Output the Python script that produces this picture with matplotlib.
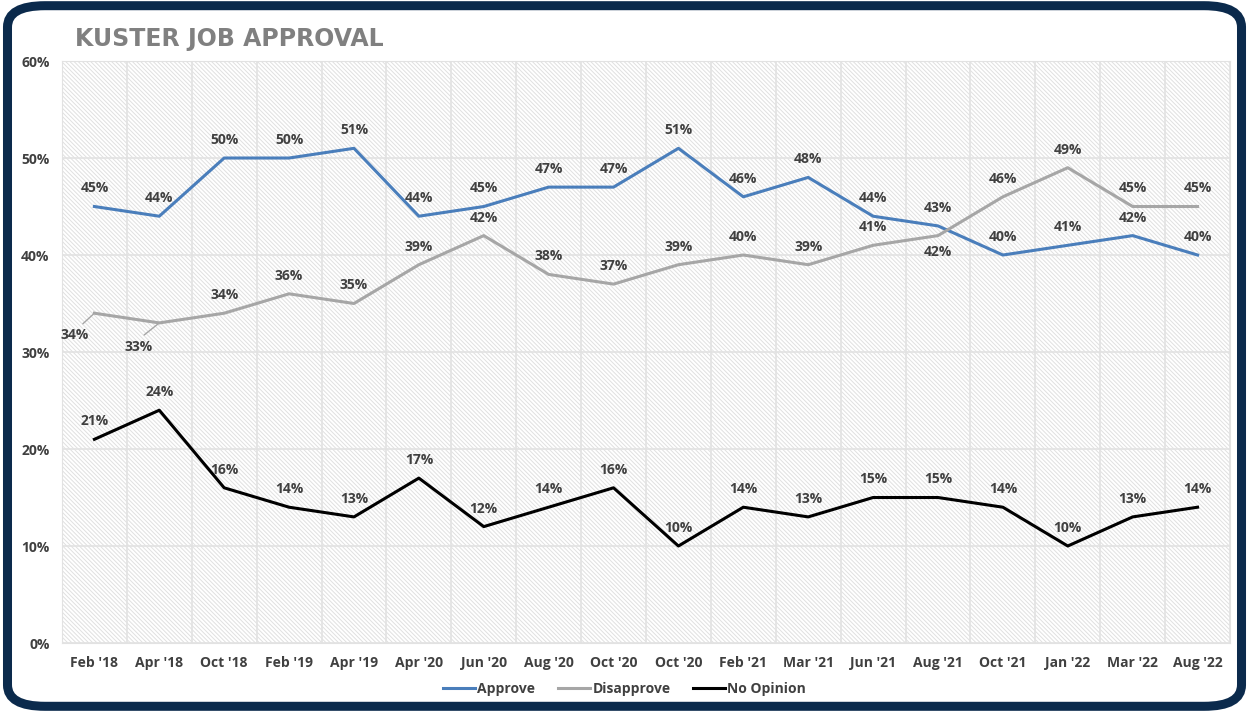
import matplotlib
matplotlib.use("Agg")
import matplotlib.pyplot as plt
from matplotlib.patches import Rectangle, FancyBboxPatch

# Kuster job approval tracker
periods = ["Feb '18", "Apr '18", "Oct '18", "Feb '19", "Apr '19", "Apr '20",
           "Jun '20", "Aug '20", "Oct '20", "Oct '20", "Feb '21", "Mar '21",
           "Jun '21", "Aug '21", "Oct '21", "Jan '22", "Mar '22", "Aug '22"]
approve = [45, 44, 50, 50, 51, 44, 45, 47, 47, 51, 46, 48, 44, 43, 40, 41, 42, 40]
disapprove = [34, 33, 34, 36, 35, 39, 42, 38, 37, 39, 40, 39, 41, 42, 46, 49, 45, 45]
no_opinion = [21, 24, 16, 14, 13, 17, 12, 14, 16, 10, 14, 13, 15, 15, 14, 10, 13, 14]
y_ticks = [0, 10, 20, 30, 40, 50, 60]

TEXT = "#404040"
plt.rcParams["font.family"] = ["Open Sans", "DejaVu Sans"]
plt.rcParams["hatch.linewidth"] = 0.7

fig = plt.figure(figsize=(12.49, 7.12), dpi=100)

# rounded navy frame around the whole chart
frame = FancyBboxPatch((0.006, 0.008), 0.988, 0.984,
                       boxstyle="round,pad=0,rounding_size=0.03",
                       transform=fig.transFigure, facecolor="white",
                       edgecolor="#0b2a4c", linewidth=6.5, zorder=-10)
fig.patches.append(frame)

ax = fig.add_axes([0.0496, 0.0969, 0.9352, 0.8174])
n = len(periods)
x = list(range(n))

# hatched plot background
ax.add_patch(Rectangle((0, 0), 1, 1, transform=ax.transAxes, fill=False,
                       hatch="\\" * 8, edgecolor="#e0e0e0", linewidth=0, zorder=0))
for b in range(n + 1):
    ax.axvline(b - 0.5, color="#e2e2e2", linewidth=1.2, zorder=1)
for t in y_ticks:
    ax.axhline(t, color="#e2e2e2", linewidth=1.2, zorder=1)

ax.plot(x, approve, color="#4a7ebb", linewidth=2.2, label="Approve", zorder=3)
ax.plot(x, disapprove, color="#a6a6a6", linewidth=2.2, label="Disapprove", zorder=3)
ax.plot(x, no_opinion, color="black", linewidth=2.2, label="No Opinion", zorder=3)

lab = dict(ha="center", va="center", fontsize=10, fontweight="bold", color=TEXT,
           textcoords="offset points", zorder=4)

for i, v in enumerate(approve):
    ax.annotate(f"{v}%", (i, v), xytext=(0, 13), **lab)
for i, v in enumerate(no_opinion):
    ax.annotate(f"{v}%", (i, v), xytext=(0, 13), **lab)

# disapprove labels: one sits below, the first two use leader lines
leader = {0: ((-14, -16), (0.6, 1.0)), 1: ((-15, -17), (0.5, 1.0))}
for i, v in enumerate(disapprove):
    if i in leader:
        off, rel = leader[i]
        ax.annotate(f"{v}%", (i, v), xytext=off,
                    arrowprops=dict(arrowstyle="-", color="#a6a6a6", lw=1,
                                    relpos=rel, shrinkA=2, shrinkB=1), **lab)
    elif i == 13:
        ax.annotate(f"{v}%", (i, v), xytext=(0, -12), **lab)
    else:
        ax.annotate(f"{v}%", (i, v), xytext=(0, 13), **lab)

ax.set_xlim(-0.5, n - 0.5)
ax.set_ylim(0, 60)
ax.set_xticks(x)
ax.set_xticklabels(periods)
ax.set_yticks(y_ticks)
ax.set_yticklabels([f"{t}%" for t in y_ticks])
ax.tick_params(length=0, labelsize=10, labelcolor=TEXT, pad=9)
for lbl in ax.get_xticklabels() + ax.get_yticklabels():
    lbl.set_fontweight("bold")
for s in ax.spines.values():
    s.set_color("#e2e2e2")

fig.text(0.06, 0.945, "KUSTER JOB APPROVAL", fontsize=17, fontweight="bold",
         color="#808080", ha="left", va="center", family="DejaVu Sans")

fig.legend(loc="center", bbox_to_anchor=(0.5, 0.032), ncol=3, frameon=False,
           handlelength=2.3, handletextpad=0.2, columnspacing=1.6,
           prop=dict(size=10, weight="bold"), labelcolor=TEXT)

fig.savefig("out.png", dpi=100)
